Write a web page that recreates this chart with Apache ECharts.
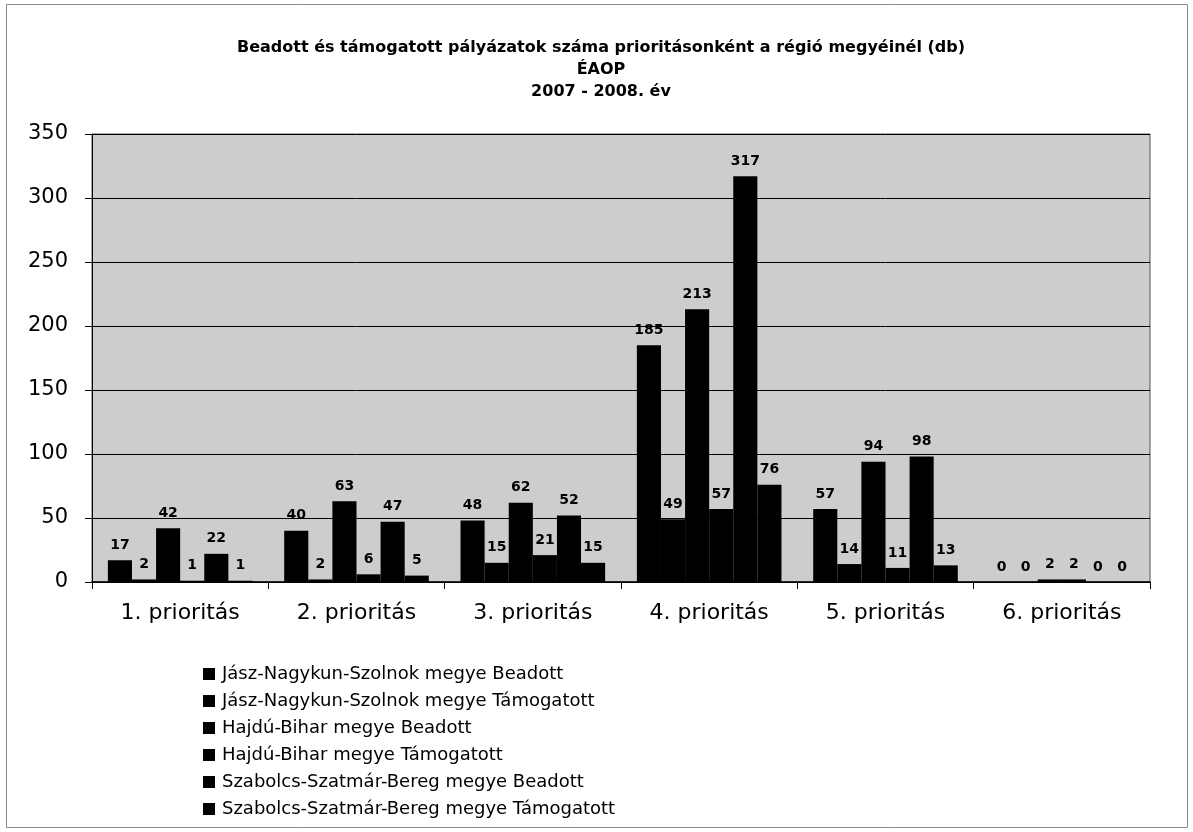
<!DOCTYPE html>
<html><head><meta charset="utf-8">
<script src="https://cdn.jsdelivr.net/npm/echarts@6/dist/echarts.min.js"></script>
<style>html,body{margin:0;padding:0;background:#fff}#c{width:1193px;height:832px}</style>
</head><body><div id="c"></div>
<script>
const categories = ['1. prioritás','2. prioritás','3. prioritás','4. prioritás','5. prioritás','6. prioritás'];
const seriesNames = [
  'Jász-Nagykun-Szolnok megye Beadott',
  'Jász-Nagykun-Szolnok megye Támogatott',
  'Hajdú-Bihar megye Beadott',
  'Hajdú-Bihar megye Támogatott',
  'Szabolcs-Szatmár-Bereg megye Beadott',
  'Szabolcs-Szatmár-Bereg megye Támogatott'
];
const jnszBeadott = [17, 40, 48, 185, 57, 0];
const jnszTamogatott = [2, 2, 15, 49, 14, 0];
const hbBeadott = [42, 63, 62, 213, 94, 2];
const hbTamogatott = [1, 6, 21, 57, 11, 2];
const szszbBeadott = [22, 47, 52, 317, 98, 0];
const szszbTamogatott = [1, 5, 15, 76, 13, 0];
const yTicks = [0, 50, 100, 150, 200, 250, 300, 350];

const FONT = 'DejaVu Sans';
const values = [jnszBeadott, jnszTamogatott, hbBeadott, hbTamogatott, szszbBeadott, szszbTamogatott];
const chart = echarts.init(document.getElementById('c'));
chart.setOption({
  animation: false,
  backgroundColor: '#fff',
  title: {
    text: 'Beadott és támogatott pályázatok száma prioritásonként a régió megyéinél (db)\nÉAOP\n2007 - 2008. év',
    left: 596, top: 32, textAlign: 'center',
    textStyle: {fontFamily: FONT, fontWeight: 'bold', fontSize: 16, lineHeight: 22, color: '#000'}
  },
  graphic: [{type: 'rect', shape: {x: 6.5, y: 4.5, width: 1181, height: 823}, style: {fill: 'none', stroke: '#888', lineWidth: 1}, z: -1}],
  grid: {left: 92, right: 43, top: 134, bottom: 250, show: true, backgroundColor: '#cdcdcd', borderColor: '#555', borderWidth: 1},
  legend: {
    orient: 'vertical', left: 198, top: 660, itemGap: 9, itemWidth: 12, itemHeight: 12,
    icon: 'rect',
    textStyle: {fontFamily: FONT, fontSize: 18, color: '#000', padding: [0,0,0,2]},
    data: seriesNames
  },
  xAxis: {
    type: 'category', data: categories,
    axisLine: {lineStyle: {color: '#000', width: 1.5}},
    axisTick: {show: true, alignWithLabel: false, length: 7, lineStyle: {color: '#000'}},
    axisLabel: {fontFamily: FONT, fontSize: 22, color: '#000', margin: 20}
  },
  yAxis: {
    type: 'value', min: 0, max: 350, interval: 50,
    axisLine: {show: true, lineStyle: {color: '#000'}},
    axisTick: {show: true, length: 7, lineStyle: {color: '#000'}},
    axisLabel: {fontFamily: FONT, fontSize: 21, color: '#000', margin: 24,
      formatter: v => yTicks.includes(v) ? String(v) : ''},
    splitLine: {lineStyle: {color: '#000', width: 1}}
  },
  series: values.map((d, i) => ({
    name: seriesNames[i], type: 'bar', data: d,
    barGap: '0%', barCategoryGap: '18%',
    itemStyle: {color: '#000'},
    label: {show: true, position: 'top', distance: 8, fontFamily: FONT, fontWeight: 'bold', fontSize: 14, color: '#000'}
  }))
});
</script></body></html>
